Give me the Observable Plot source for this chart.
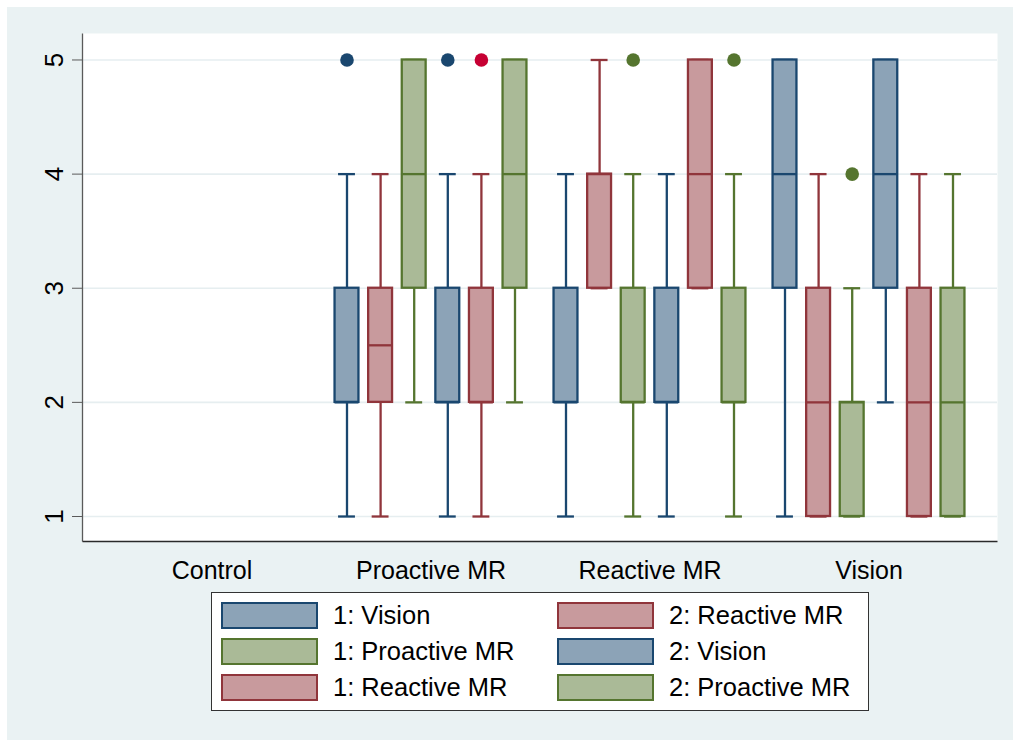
<!DOCTYPE html>
<html>
<head>
<meta charset="utf-8">
<script src="https://cdn.jsdelivr.net/npm/d3@7"></script>
<script src="https://cdn.jsdelivr.net/npm/@observablehq/plot@0.6"></script>
<style>
  html, body { margin: 0; padding: 0; background: #ffffff; }
  #chart {
    position: absolute; left: 7px; top: 7px; width: 1006px; height: 733px;
    background: #eaf2f3; font-family: "Liberation Sans", Arial, sans-serif;
  }
  #chart svg { position: absolute; left: 0; top: 0; }
  #legend {
    position: absolute; left: 204px; top: 585px; width: 656px; height: 117px;
    background: #ffffff; border: 1px solid #333333;
  }
  .swatch { position: absolute; width: 93px; height: 23px; border: 2px solid; }
  .key-label { position: absolute; height: 27px; line-height: 27px; font-size: 25.5px; color: #000; white-space: nowrap; }
</style>
</head>
<body>
<div id="chart"><div id="legend"></div></div>
<script>
// Groups on the x axis and the six box series drawn inside each group
const groups = ["Control", "Proactive MR", "Reactive MR", "Vision"];
const boxGroups = ["Proactive MR", "Reactive MR", "Vision"];
const series = ["1: Vision", "2: Reactive MR", "1: Proactive MR", "2: Vision", "1: Reactive MR", "2: Proactive MR"];
const seriesStroke = ["#1a476f", "#90353b", "#55752f", "#1a476f", "#90353b", "#55752f"];
const seriesFill = ["#8ca3b7", "#c89a9d", "#aaba97", "#8ca3b7", "#c89a9d", "#aaba97"];
const outlierColor = ["#1a476f", "#90353b", "#55752f", "#1a476f", "#c60033", "#55752f"];
const yTicks = [1, 2, 3, 4, 5];

// Box statistics: one row per series, columns follow boxGroups
const lowerWhisker = [[1, 1, 1], [1, 3, 1], [2, 1, 1], [1, 1, 2], [1, 3, 1], [2, 1, 1]];
const quartile1    = [[2, 2, 3], [2, 3, 1], [3, 2, 1], [2, 2, 3], [2, 3, 1], [3, 2, 1]];
const median       = [[2, 2, 4], [2.5, 4, 2], [4, 2, 2], [2, 2, 4], [2, 4, 2], [4, 2, 2]];
const quartile3    = [[3, 3, 5], [3, 4, 3], [5, 3, 2], [3, 3, 5], [3, 5, 3], [5, 3, 3]];
const upperWhisker = [[4, 4, 5], [4, 5, 4], [5, 4, 3], [4, 4, 5], [4, 5, 4], [5, 4, 4]];

// Outside values: [series index, group, value]
const outliers = [
  [0, "Proactive MR", 5], [3, "Proactive MR", 5], [4, "Proactive MR", 5],
  [2, "Reactive MR", 5], [5, "Reactive MR", 5], [2, "Vision", 4]
];

// Layout
const width = 1006, height = 580;
const marginLeft = 75, marginRight = 16, marginTop = 26, marginBottom = 46;
const plotW = width - marginLeft - marginRight;
const plotH = height - marginTop - marginBottom;
const padOuter = 0.088;
const step = plotW / (groups.length + 2 * padOuter);
const slot = 33.6;     // distance between neighbouring boxes in a group
const boxW = 24, capW = 17;
const boxInset = (step - boxW) / 2;
const capInset = (step - capW) / 2;
const lw = 2.3;

const marks = [
  Plot.frame({fill: "#ffffff", stroke: null}),
  Plot.gridY(yTicks, {stroke: "#e6eef0", strokeOpacity: 1, strokeWidth: 1.6})
];

series.forEach((name, i) => {
  const rows = boxGroups.map((g, j) => ({
    group: g,
    lo: lowerWhisker[i][j], q1: quartile1[i][j], med: median[i][j],
    q3: quartile3[i][j], hi: upperWhisker[i][j]
  }));
  const dx = (i - 2.5) * slot;
  const stroke = seriesStroke[i];
  marks.push(
    Plot.ruleX(rows, {x: "group", y1: "lo", y2: "hi", dx, stroke, strokeWidth: lw}),
    Plot.tickY(rows, {x: "group", y: "lo", dx, stroke, strokeWidth: lw, insetLeft: capInset, insetRight: capInset}),
    Plot.tickY(rows, {x: "group", y: "hi", dx, stroke, strokeWidth: lw, insetLeft: capInset, insetRight: capInset}),
    Plot.barY(rows, {x: "group", y1: "q1", y2: "q3", dx, fill: seriesFill[i], stroke, strokeWidth: lw, insetLeft: boxInset, insetRight: boxInset}),
    Plot.tickY(rows, {x: "group", y: "med", dx, stroke, strokeWidth: lw, insetLeft: boxInset, insetRight: boxInset}),
    Plot.dot(outliers.filter(o => o[0] === i), {x: d => d[1], y: d => d[2], dx, r: 6.8, fill: outlierColor[i], stroke: null})
  );
});

marks.push(
  // left and bottom axis lines
  Plot.frame({stroke: "#5a5a5a", strokeWidth: 1.3, strokeDasharray: `0 ${2 * plotW + plotH} ${plotH}`}),
  Plot.frame({stroke: "#2a2a2a", strokeWidth: 1.4, strokeDasharray: `0 ${plotW + plotH} ${plotW} ${plotH}`}),
  Plot.axisY({ticks: yTicks, tickFormat: d3.format("d"), tickSize: 10, tickPadding: 10, tickRotate: -90, fontSize: 26, stroke: "#5a5a5a", fill: "#000", label: null}),
  Plot.axisX({tickSize: 0, tickPadding: 20, fontSize: 25, fill: "#000", label: null})
);

const chart = Plot.plot({
  width, height, marginLeft, marginRight, marginTop, marginBottom,
  style: {fontFamily: "'Liberation Sans', Arial, sans-serif", fontSize: "25px", color: "#000", background: "none", overflow: "visible"},
  x: {type: "band", domain: groups, paddingInner: 0, paddingOuter: padOuter},
  y: {domain: [0.781, 5.232]},
  marks
});
document.getElementById("chart").prepend(chart);

// Legend: two columns, filled row by row
const legend = document.getElementById("legend");
series.forEach((name, i) => {
  const col = i % 2, row = Math.floor(i / 2);
  const left = 9 + col * 336, top = 9 + row * 36;
  const sw = document.createElement("div");
  sw.className = "swatch";
  sw.style.left = left + "px";
  sw.style.top = top + "px";
  sw.style.background = seriesFill[i];
  sw.style.borderColor = seriesStroke[i];
  legend.appendChild(sw);
  const lab = document.createElement("div");
  lab.className = "key-label";
  lab.style.left = (left + 112) + "px";
  lab.style.top = top + "px";
  lab.textContent = name;
  legend.appendChild(lab);
});
</script>
</body>
</html>
